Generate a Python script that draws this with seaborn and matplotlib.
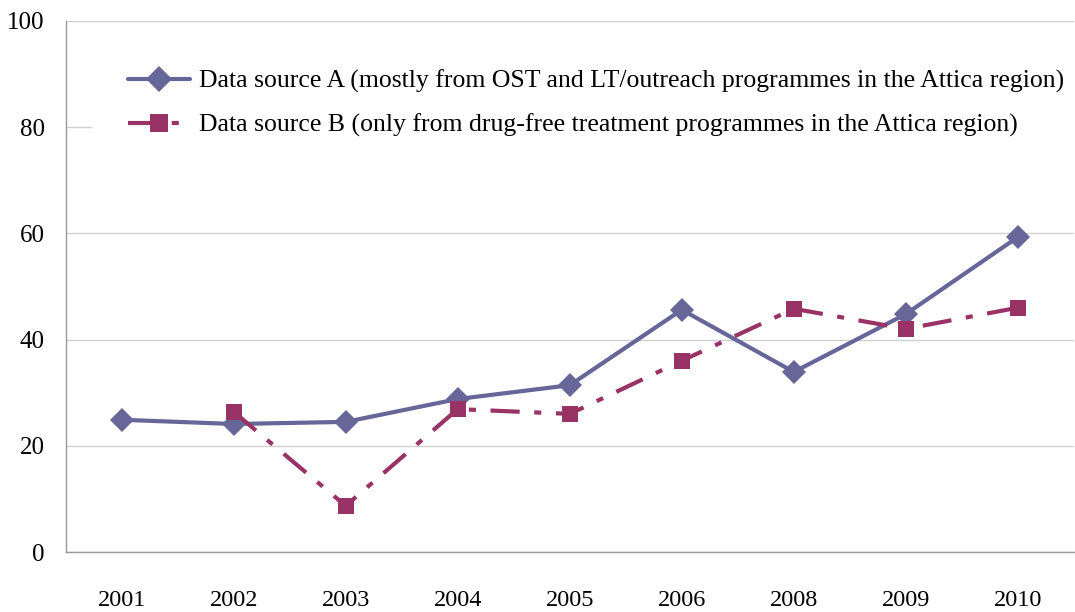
import pandas as pd
import matplotlib.pyplot as plt
import seaborn as sns

years = ['2001', '2002', '2003', '2004', '2005', '2006', '2008', '2009', '2010']
source_a = [24.9, 24.1, 24.5, 28.8, 31.4, 45.6, 33.9, 44.8, 59.3]
source_b = [None, 26.4, 8.7, 26.9, 26.0, 36.0, 45.8, 42.0, 46.0]
label_a = 'Data source A (mostly from OST and LT/outreach programmes in the Attica region)'
label_b = 'Data source B (only from drug-free treatment programmes in the Attica region)'

df = pd.DataFrame({'year': years, 'a': source_a, 'b': source_b})
df['pos'] = range(len(df))
df_b = df.dropna(subset=['b'])

sns.set_style('white')
plt.rcParams['font.family'] = ['Liberation Serif', 'DejaVu Serif']
plt.rcParams['text.color'] = 'black'
plt.rcParams['xtick.labelcolor'] = 'black'
plt.rcParams['ytick.labelcolor'] = 'black'

fig, ax = plt.subplots(figsize=(10.75, 6.12), dpi=100)
fig.subplots_adjust(left=0.061, right=0.999, top=0.966, bottom=0.098)

sns.lineplot(data=df, x='pos', y='a', ax=ax, color='#666699', lw=3,
             marker='D', markersize=12, markeredgewidth=0, label=label_a)
sns.lineplot(data=df_b, x='pos', y='b', ax=ax, color='#993366', lw=3,
             marker='s', markersize=12, markeredgewidth=0, label=label_b)
ax.lines[-1].set_dashes((7, 3.5, 1.7, 3.5))

ax.set_xlim(-0.5, len(years) - 0.5)
ax.set_ylim(0, 100)
ax.set_yticks([0, 20, 40, 60, 80, 100])
ax.set_xticks(range(len(years)))
ax.set_xticklabels(years)
ax.set_xticks([i - 0.5 for i in range(len(years) + 1)], minor=True)
ax.tick_params(axis='x', which='major', length=0, pad=27, labelsize=17.5)
ax.tick_params(axis='x', which='minor', length=8, width=1, color='#999999', direction='out')
ax.tick_params(axis='y', length=8, width=1, color='#999999', direction='out', pad=7, labelsize=18)
ax.grid(axis='y', color='#d0d0d0', lw=1)
ax.set_axisbelow(True)
for s in ['top', 'right']:
    ax.spines[s].set_visible(False)
for s in ['left', 'bottom']:
    ax.spines[s].set_color('#999999')
    ax.spines[s].set_linewidth(1)
ax.set_xlabel('')
ax.set_ylabel('')

leg = ax.legend(loc='upper left', bbox_to_anchor=(0.0267, 0.976), frameon=True,
                fontsize=18.5, handlelength=2.4, handletextpad=0.35, numpoints=1,
                labelspacing=0.82, borderpad=1.4, borderaxespad=0, fancybox=False)
leg.get_frame().set_facecolor('white')
leg.get_frame().set_edgecolor('none')
leg.get_frame().set_alpha(1)
for h in leg.legend_handles:
    h.set_markersize(13)

fig.savefig('out.png', dpi=100)
